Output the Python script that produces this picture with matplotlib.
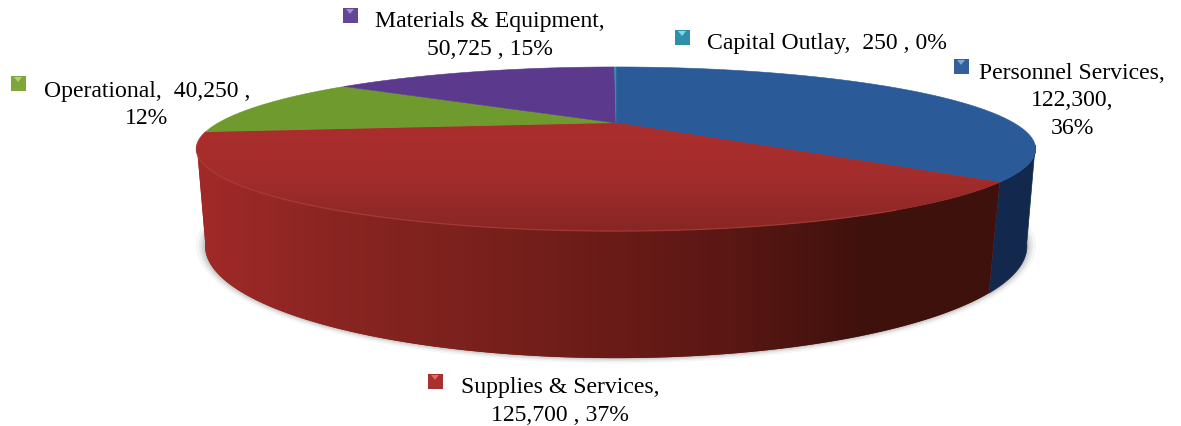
import numpy as np
import matplotlib
matplotlib.use("Agg")
import matplotlib.pyplot as plt
from matplotlib.patches import Polygon, Rectangle, Ellipse
from matplotlib.colors import LinearSegmentedColormap

# budget figures, clockwise from 12 o'clock
categories = ["Personnel Services", "Supplies & Services", "Operational",
              "Materials & Equipment", "Capital Outlay"]
amounts = [122300, 125700, 40250, 50725, 250]
top_colors = ["#2a5b98", "#a52d2c", "#6f9a2e", "#5b3a8e", "#2f93ac"]
wall_colors = ["#12294d", "#7a211d", "#4f6e1f", "#3d2760", "#1e6070"]
key_colors = ["#33609c", "#a8302e", "#7fa63a", "#644694", "#2f8fa8"]
key_tips = ["#7fa6dc", "#e06a66", "#b6d46a", "#a88ad0", "#7fdcec"]

# label layout: text lines, centre x, centre y, key x, key y
label_text = [
    "{name},\n{val:,},\n{pct:.0f}%",
    "{name},\n{val:,} , {pct:.0f}%",
    "{name},  {val:,} ,\n{pct:.0f}%",
    "{name},\n{val:,} , {pct:.0f}%",
    "{name},  {val:,} , {pct:.0f}%",
]
label_x = [1072, 560, 147, 490, 827]
label_y = [101, 401.5, 105, 35.5, 44]
key_x = [961, 435, 18, 350, 682]
key_y = [67, 382, 84, 16, 38]

cx = 616
a_top, c_top, k_top, y_top = 398, 73.8, 0.317, 124
a_bot, c_bot, k_bot, y_bot = 392, 102, 0.30, 213.4


def rim(theta, a, c, k, y0):
    # perspective view of a circle; theta is clockwise from the far side
    X = np.sin(theta)
    Y = -np.cos(theta)
    d = 1 - k * Y
    return cx + a * X / d, y0 + c * Y / d


def top_rim(theta):
    return rim(theta, a_top, c_top, k_top, y_top)


def bot_rim(theta):
    return rim(theta, a_bot, c_bot, k_bot, y_bot)


def wall_polygon(t0, t1):
    th = np.linspace(t0, t1, 200)
    tx, ty = top_rim(th)
    bx, by = bot_rim(th[::-1])
    return np.column_stack([np.r_[tx, bx], np.r_[ty, by]])


fig = plt.figure(figsize=(11.81, 4.27), dpi=100)
ax = fig.add_axes([0, 0, 1, 1])

total = sum(amounts)
edges = np.concatenate([[0], np.cumsum(amounts)]) / total * 2 * np.pi
front0, front1 = 1.85, 2 * np.pi - 1.85

# soft shadow behind the base
for grow, alpha in [(9, 0.05), (6, 0.07), (4, 0.09), (2, 0.12)]:
    ax.add_patch(Ellipse((cx, 247), 2 * (411 + grow), 2 * (112 + grow * 0.6), fc="#555555",
                         ec="none", alpha=alpha, zorder=1))

# side wall: blue part is flat, red part darkens to the right
blue_wall = Polygon(wall_polygon(front0, edges[1]), closed=True, fc=wall_colors[0],
                    ec=wall_colors[0], lw=0.5, zorder=2)
ax.add_patch(blue_wall)
red_wall = Polygon(wall_polygon(edges[1], front1), closed=True, fc=wall_colors[1],
                   ec="none", zorder=2)
ax.add_patch(red_wall)
wall_map = LinearSegmentedColormap.from_list(
    "wall", ["#a22a28", "#8a2522", "#7c211d", "#6c1c18", "#5a1714", "#3f110c", "#3f110c"])
im = ax.imshow(np.linspace(0, 1, 256).reshape(1, -1), extent=(195, 1000, 427, 0),
               cmap=wall_map, aspect="auto", zorder=2.1)
im.set_clip_path(red_wall)

# top face
for i in range(len(amounts)):
    th = np.linspace(edges[i], edges[i + 1], 120)
    tx, ty = top_rim(th)
    pts = np.column_stack([np.r_[cx, tx], np.r_[y_top, ty]])
    poly = Polygon(pts, closed=True, fc=top_colors[i], ec=top_colors[i], lw=0.4, zorder=3)
    ax.add_patch(poly)
    if i == 1:
        # the red slice fades a little toward the front edge
        grad = np.linspace(0, 1, 128).reshape(-1, 1)
        cmap = LinearSegmentedColormap.from_list("red", ["#ab2e2c", "#a32d2c", "#862624"])
        im = ax.imshow(grad, extent=(190, 1040, 235, 120), cmap=cmap, aspect="auto", zorder=3.1)
        im.set_clip_path(poly)

# light line along the front edge of the red slice
th = np.linspace(edges[1], edges[2], 200)
tx, ty = top_rim(th)
keep = tx < 900
ax.plot(tx[keep], ty[keep], color="#b0443e", lw=1.0, alpha=0.55, zorder=3.2)

ax.set_xlim(0, 1181)
ax.set_ylim(427, 0)
ax.axis("off")

# data labels with their small square keys
for i, name in enumerate(categories):
    text = label_text[i].format(name=name, val=amounts[i], pct=amounts[i] / total * 100)
    ax.text(label_x[i], label_y[i], text, ha="center", va="center", color="black",
            family="Liberation Serif", fontsize=17.1, linespacing=1.42, zorder=5)
    ax.add_patch(Rectangle((key_x[i] - 7.5, key_y[i] - 7.5), 15, 15, fc=key_colors[i],
                           ec="none", zorder=5))
    ax.add_patch(Polygon([(key_x[i] - 4, key_y[i] - 6), (key_x[i] + 4, key_y[i] - 6),
                          (key_x[i], key_y[i] - 1)], closed=True, fc=key_tips[i],
                         ec="none", zorder=6))

fig.savefig("out.png", dpi=100)
